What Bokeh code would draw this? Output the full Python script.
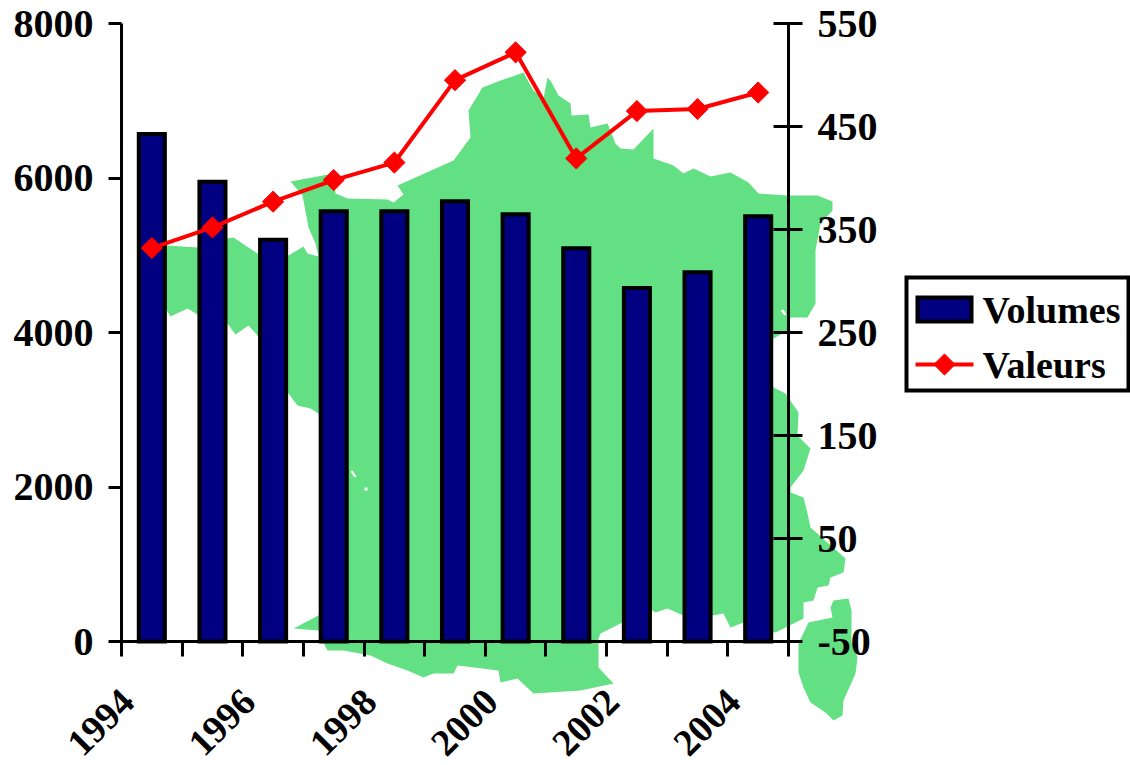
from bokeh.core.properties import value
from bokeh.embed import file_html
from bokeh.models import ColumnDataSource, FixedTicker, LinearAxis, Range1d
from bokeh.plotting import figure
from bokeh.resources import INLINE

# Yearly series
YEARS = [1994, 1995, 1996, 1997, 1998, 1999, 2000, 2001, 2002, 2003, 2004]
VOLUMES = [6570, 5950, 5200, 5570, 5570, 5700, 5530, 5090, 4575, 4780, 5505]
VALEURS = [332, 352, 377, 398, 415, 495, 522, 419, 465, 467, 483]

LEFT_TICKS = [0, 2000, 4000, 6000, 8000]
RIGHT_TICKS = [-50, 50, 150, 250, 350, 450, 550]
YEAR_LABELS = ["1994", "1996", "1998", "2000", "2002", "2004"]
LEGEND_LABELS = ["Volumes", "Valeurs"]

# Outline of mainland France and Corsica, in page pixels, for the backdrop
FRANCE_X = [160, 167, 197, 227, 233, 257, 288, 303, 307, 318, 315, 308, 302, 290, 333, 335, 347,
            387, 393, 403, 397, 453, 470, 468, 482, 500, 523, 533, 543, 547, 550, 558, 570, 571,
            588, 590, 607, 615, 620, 633, 653, 653, 673, 683, 693, 710, 730, 748, 758, 787, 817,
            832, 832, 820, 815, 815, 807, 790, 787, 773, 765, 765, 773, 785, 798, 797, 810, 803,
            790, 790, 803, 807, 810, 845, 843, 830, 828, 817, 813, 803, 803, 775, 743, 730, 723,
            712, 683, 667, 655, 652, 622, 600, 598, 598, 613, 580, 533, 517, 500, 498, 457, 453,
            433, 423, 407, 387, 370, 343, 327, 323, 318, 293, 318, 330, 330, 318, 310, 297, 288,
            270, 257, 248, 235, 227, 197, 187, 170, 160]
FRANCE_Y = [245, 245, 247, 238, 237, 253, 255, 246, 253, 256, 243, 227, 195, 181, 173, 193, 198,
            199, 202, 194, 185, 160, 137, 110, 87, 80, 72, 90, 98, 77, 80, 95, 103, 115, 114, 127,
            123, 143, 148, 149, 128, 158, 165, 173, 168, 176, 172, 182, 193, 195, 195, 201, 210,
            223, 250, 303, 317, 317, 330, 338, 345, 380, 387, 393, 412, 435, 448, 470, 487, 492,
            497, 513, 527, 558, 572, 577, 585, 587, 600, 602, 618, 632, 622, 627, 613, 615, 615,
            608, 612, 610, 622, 633, 638, 667, 683, 690, 693, 678, 682, 670, 665, 673, 673, 677,
            670, 663, 655, 650, 650, 642, 630, 628, 615, 560, 470, 413, 408, 405, 393, 365, 335,
            325, 334, 323, 314, 308, 316, 300]
CORSICA_X = [833, 848, 851, 851, 857, 855, 843, 842, 833, 825, 810, 803, 798, 798, 808, 832, 830]
CORSICA_Y = [600, 598, 610, 640, 657, 673, 700, 715, 720, 712, 702, 687, 672, 643, 622, 617, 607]
LAKE_X = [[350, 352, 356, 354], [364, 367, 367, 364], [780, 783, 786, 784]]
LAKE_Y = [[471, 470, 476, 477], [487, 487, 490, 490], [310, 309, 314, 315]]

GREEN = "#63E083"
NAVY = "#000080"
RED = "#FF0000"
FONT = "Liberation Serif"

# Page geometry of the chart box
PAGE_W, PAGE_H = 1130, 765
BOX_LEFT, BOX_RIGHT, BOX_TOP, BOX_BOTTOM = 121, 788, 23, 641
YEAR_PX = (BOX_RIGHT - BOX_LEFT) / len(YEARS)
VOLUME_PX = (BOX_BOTTOM - BOX_TOP) / 8000
VALEUR_PX = (BOX_BOTTOM - BOX_TOP) / 600

# The frame fills the page, so that the map and legend can lie outside the axes' box
p = figure(
    frame_width=PAGE_W, frame_height=PAGE_H, width=PAGE_W, height=PAGE_H, min_border=0,
    x_range=Range1d(YEARS[0] - BOX_LEFT / YEAR_PX, YEARS[0] + (PAGE_W - BOX_LEFT) / YEAR_PX),
    y_range=Range1d((BOX_BOTTOM - PAGE_H) / VOLUME_PX, BOX_BOTTOM / VOLUME_PX),
    x_axis_type=None, y_axis_type=None,
    output_backend="svg", toolbar_location=None,
)
p.grid.visible = False
p.outline_line_color = None
p.extra_y_ranges = {
    "valeurs": Range1d(-50 + (BOX_BOTTOM - PAGE_H) / VALEUR_PX, -50 + BOX_BOTTOM / VALEUR_PX),
    "page": Range1d(PAGE_H, 0),
}
p.extra_x_ranges = {"page": Range1d(0, PAGE_W)}
PAGE = dict(x_range_name="page", y_range_name="page")

p.patches(xs=[FRANCE_X, CORSICA_X], ys=[FRANCE_Y, CORSICA_Y], fill_color=GREEN, line_color=None, **PAGE)
p.patches(xs=LAKE_X, ys=LAKE_Y, fill_color="white", line_color=None, **PAGE)


def style_axis(axis, ticks, font_size="40px"):
    axis.ticker = FixedTicker(ticks=ticks)
    axis.axis_line_color = "black"
    axis.axis_line_width = 3
    axis.major_tick_line_color = "black"
    axis.major_tick_line_width = 3
    axis.minor_tick_line_color = None
    axis.major_label_text_font = FONT
    axis.major_label_text_font_style = "bold"
    axis.major_label_text_font_size = font_size
    axis.major_label_text_color = "black"


left_axis = LinearAxis(fixed_location=YEARS[0], bounds=(0, 8000))
style_axis(left_axis, LEFT_TICKS)
left_axis.major_tick_in = 0
left_axis.major_tick_out = 13
left_axis.major_label_standoff = 15
p.add_layout(left_axis, "left")

right_axis = LinearAxis(y_range_name="valeurs", fixed_location=YEARS[-1] + 1, bounds=(-50, 550))
style_axis(right_axis, RIGHT_TICKS)
right_axis.major_tick_in = 15
right_axis.major_tick_out = 14
right_axis.major_label_standoff = 15
right_axis.major_label_overrides = {-50: "-50"}
p.add_layout(right_axis, "right")

# Category boundaries carry the tick marks
boundaries = YEARS + [YEARS[-1] + 1]
tick_axis = LinearAxis(fixed_location=0, bounds=(boundaries[0], boundaries[-1]))
style_axis(tick_axis, boundaries, "1px")
tick_axis.major_tick_in = 0
tick_axis.major_tick_out = 15
tick_axis.major_label_overrides = {y: "" for y in boundaries}
p.add_layout(tick_axis, "below")

# Year labels are slanted and end close to the middle of their category
label_positions = [int(t) + 0.1 for t in YEAR_LABELS]
label_axis = LinearAxis(fixed_location=0)
style_axis(label_axis, label_positions, "38px")
label_axis.axis_line_color = None
label_axis.major_tick_line_color = None
label_axis.major_tick_out = 0
label_axis.major_tick_in = 0
label_axis.major_label_orientation = 0.785
label_axis.major_label_standoff = 54
label_axis.major_label_overrides = dict(zip(label_positions, YEAR_LABELS))
p.add_layout(label_axis, "below")

source = ColumnDataSource(dict(
    center=[y + 0.5 for y in YEARS], volumes=VOLUMES, valeurs=VALEURS,
))
p.vbar(x="center", top="volumes", width=0.43, source=source,
       fill_color=NAVY, line_color="black", line_width=4, line_join="miter")
p.line(x="center", y="valeurs", source=source, y_range_name="valeurs",
       line_color=RED, line_width=4)
p.scatter(x="center", y="valeurs", source=source, y_range_name="valeurs",
          marker="square", angle=0.785, size=15, fill_color=RED, line_color=RED)

# Legend box with its two keys, laid out on the page scale
KEY_LEFT, KEY_RIGHT, LABEL_LEFT = 917, 971, 982
ROW_Y = [309, 364]
p.quad(left=[906], right=[1128], top=[277], bottom=[390],
       fill_color="white", line_color="black", line_width=4, line_join="miter", **PAGE)
p.quad(left=[KEY_LEFT], right=[KEY_RIGHT], top=[ROW_Y[0] - 12], bottom=[ROW_Y[0] + 12],
       fill_color=NAVY, line_color="black", line_width=4, line_join="miter", **PAGE)
p.line(x=[KEY_LEFT - 2, KEY_RIGHT + 2], y=[ROW_Y[1], ROW_Y[1]], line_color=RED, line_width=4, **PAGE)
p.scatter(x=[(KEY_LEFT + KEY_RIGHT) / 2], y=[ROW_Y[1]], marker="square", angle=0.785, size=15,
          fill_color=RED, line_color=RED, **PAGE)
p.text(x=[LABEL_LEFT, LABEL_LEFT], y=ROW_Y, text=LEGEND_LABELS, text_align="left",
       text_baseline="middle", text_font=value(FONT), text_font_style="bold",
       text_font_size="38px", text_color="black", **PAGE)

open("out.html", "w").write(file_html(p, INLINE))
